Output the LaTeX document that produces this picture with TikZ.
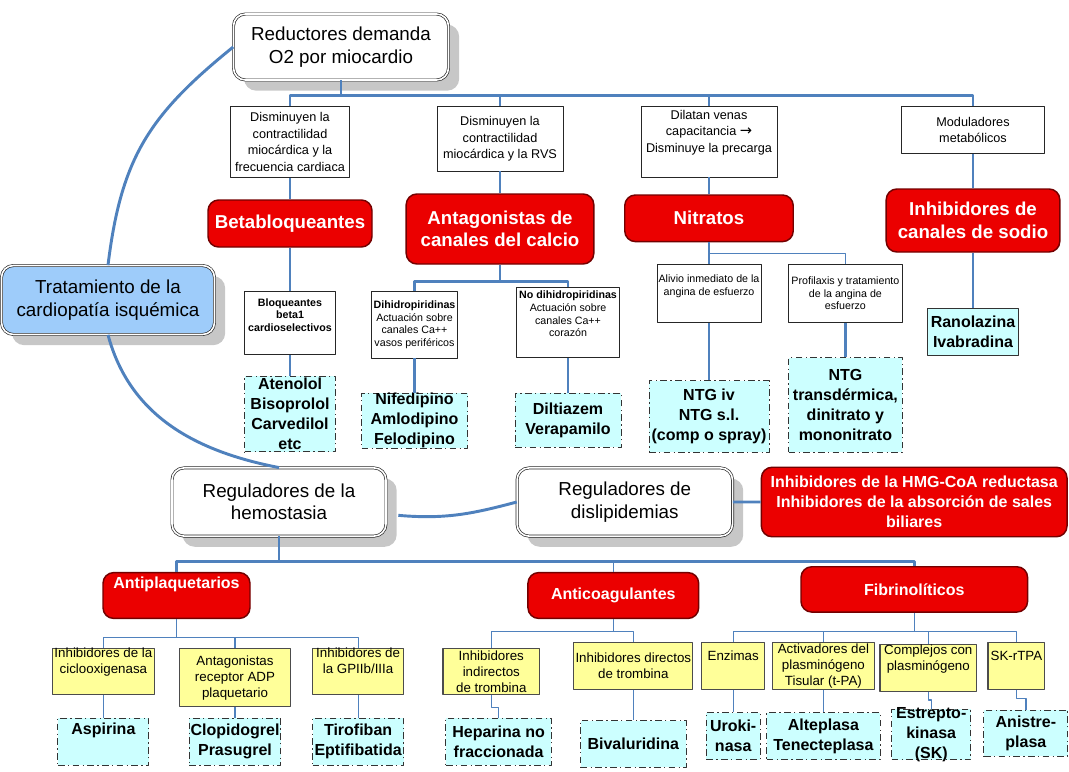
\documentclass[tikz,border=0pt]{standalone}
\usepackage{fontspec}
\setmainfont{Liberation Sans}
\newfontfamily\arrowfont{DejaVu Sans}
\usetikzlibrary{shadows}
\definecolor{linkblue}{RGB}{79,129,189}
\definecolor{boxred}{RGB}{235,0,0}
\definecolor{edgered}{RGB}{115,0,0}
\definecolor{drugcyan}{RGB}{204,255,255}
\definecolor{notey}{RGB}{255,255,153}
\definecolor{tratblue}{RGB}{158,204,250}
\tikzset{
	sz/.style 2 args={minimum width=#1*.75pt,minimum height=#2*.75pt},
	conn/.style={linkblue,line width=2.2pt},
	thinconn/.style={linkblue,line width=.9pt},
	bigbox/.style={draw=black!85,double=white,double distance=1.2pt,line width=.5pt,rounded corners=9pt,fill=white,align=center,inner sep=1pt,font=\fontsize{14.1}{16.9}\selectfont,drop shadow={shadow xshift=8pt,shadow yshift=-8pt,fill=black!22,opacity=1}},
	redbox/.style={draw=edgered,line width=1.1pt,fill=boxred,text=white,rounded corners=8pt,align=center,inner sep=1pt,font=\bfseries\fontsize{14}{16.8}\selectfont},
	redlow/.style={redbox,font=\bfseries\fontsize{12}{15}\selectfont},
	notebox/.style={draw=black!85,line width=.6pt,fill=white,align=center,inner sep=1pt,font=\fontsize{9.5}{12.3}\selectfont},
	tinybox/.style={notebox,font=\fontsize{8}{9.5}\selectfont},
	drugbox/.style={draw=black!80,dash pattern=on 5pt off 2.5pt on 1pt off 2.5pt,line width=.7pt,fill=drugcyan,align=center,inner xsep=1pt,inner ysep=0pt,font=\bfseries\fontsize{12}{15}\selectfont},
	yelbox/.style={draw=black!70,line width=.8pt,fill=notey,align=center,inner xsep=1pt,inner ysep=0pt,font=\fontsize{10}{12}\selectfont}}
\begin{document}
\begin{tikzpicture}[x=.75pt,y=.75pt,line join=round]
	\useasboundingbox (0,0) rectangle (1069,-771);
	\node[bigbox,sz={215}{66}] (redu) at (341,-47) {Reductores demanda\\O2 por miocardio};
	\node[bigbox,fill=tratblue,sz={213}{69}] (trat) at (108,-300) {Tratamiento de la\\cardiopatía isquémica};
	\node[notebox,sz={119}{70.6}] (d1) at (290,-142) {Disminuyen la\\contractilidad\\miocárdica y la\\frecuencia cardiaca};
	\node[notebox,sz={126}{64.3}] (d2) at (500,-138.9) {Disminuyen la\\contractilidad\\miocárdica y la RVS};
	\node[notebox,sz={136}{70.4}] (d3) at (709,-141.8) {Dilatan venas\\capacitancia {\arrowfont\fontsize{11}{12.3}\selectfont\symbol{"2192}}\\Disminuye la precarga\\\strut};
	\node[notebox,sz={142.6}{47}] (d4) at (973,-130.2) {Moduladores\\metabólicos};
	\node[redbox,sz={164}{47}] (beta) at (290,-223.5) {Betabloqueantes};
	\node[redbox,sz={187.6}{70}] (anta) at (500,-229) {Antagonistas de\\canales del calcio};
	\node[redbox,sz={168.5}{46.6}] (nitr) at (709,-218.3) {Nitratos};
	\node[redbox,sz={173.6}{63}] (sodi) at (973,-220.5) {Inhibidores de\\canales de sodio};
	\node[tinybox,font=\bfseries\fontsize{8}{9.5}\selectfont,sz={90.7}{63}] (bloq) at (290,-323.1) {Bloqueantes\\beta1\\cardioselectivos\\\strut};
	\node[tinybox,sz={86}{66.4}] (dihi) at (414.5,-324.8) {\textbf{Dihidropiridinas}\\Actuación sobre\\canales Ca++\\vasos periféricos};
	\node[tinybox,inner xsep=0pt,sz={103}{70.4}] (nodi) at (568,-322.2) {\textbf{No dihidropiridinas}\\Actuación sobre\\canales Ca++\\corazón\\\strut};
	\node[tinybox,sz={104}{57.7}] (aliv) at (709,-293.5) {Alivio inmediato de la\\angina de esfuerzo\\\strut};
	\node[tinybox,sz={113.8}{57.7}] (prof) at (845.4,-293.5) {Profilaxis y tratamiento\\de la angina de\\esfuerzo};
	\node[drugbox,sz={90.7}{75.7}] (aten) at (290,-413.9) {Atenolol\\Bisoprolol\\Carvedilol\\etc};
	\node[drugbox,sz={106}{55}] (nife) at (414.5,-420.5) {Nifedipino\\Amlodipino\\Felodipino};
	\node[drugbox,sz={106}{54}] (dilt) at (568,-420) {Diltiazem\\Verapamilo};
	\node[drugbox,sz={120}{71.2}] (ntgi) at (709,-416.4) {NTG iv\\NTG s.l.\\(comp o spray)};
	\node[drugbox,sz={113.8}{94.2}] (ntgt) at (845.4,-404.9) {NTG\\transdérmica,\\dinitrato y\\mononitrato};
	\node[drugbox,solid,sz={90.3}{47}] (rano) at (973,-331.5) {Ranolazina\\Ivabradina};
	\node[bigbox,sz={214}{68.2}] (hemo) at (279,-502) {Reguladores de la\\hemostasia};
	\node[bigbox,sz={215.5}{68.2}] (disl) at (624.8,-502) {Reguladores de\\dislipidemias};
	\node[redlow,sz={305.6}{69.5}] (hmg) at (914.2,-502) {Inhibidores de la HMG-CoA reductasa\\Inhibidores de la absorción de sales\\biliares};
	\node[redlow,sz={147}{45.8}] (apla) at (176.5,-595.5) {Antiplaquetarios\\\strut};
	\node[redlow,sz={170.7}{45.8}] (acoa) at (613.3,-595.5) {Anticoagulantes};
	\node[redlow,sz={226.6}{45.3}] (fibr) at (914.3,-589.4) {Fibrinolíticos};
	\node[yelbox,sz={102}{46.5}] (cicl) at (103.4,-671.5) {Inhibidores de la\\ciclooxigenasa\\\strut};
	\node[yelbox,sz={110.5}{58.6}] (adp) at (235,-677.6) {Antagonistas\\receptor ADP\\plaquetario};
	\node[yelbox,sz={91}{46.5}] (gpii) at (358.1,-671.5) {Inhibidores de\\la GPIIb/IIIa\\\strut};
	\node[yelbox,sz={96.6}{46.5}] (indi) at (491.3,-671.5) {Inhibidores\\indirectos\\de trombina};
	\node[yelbox,sz={119.2}{46.5}] (dire) at (633.3,-665.8) {Inhibidores directos\\de trombina};
	\node[yelbox,sz={62.5}{46.5}] (enzi) at (733.2,-665.8) {Enzimas\\\strut};
	\node[yelbox,sz={102.4}{46.5}] (acti) at (823.4,-665.8) {Activadores del\\plasminógeno\\Tisular (t-PA)};
	\node[yelbox,sz={96.6}{45.7}] (comp) at (928.3,-667.9) {Complejos con\\plasminógeno\\\strut};
	\node[yelbox,sz={56.8}{46.5}] (sktp) at (1016.4,-665.8) {SK-rTPA\\\strut};
	\node[drugbox,sz={91}{47.2}] (aspi) at (103.4,-741.8) {Aspirina\\\strut};
	\node[drugbox,sz={91.2}{47.2}] (clop) at (235,-741.8) {Clopidogrel\\Prasugrel};
	\node[drugbox,sz={91}{47.2}] (tiro) at (358.1,-741.8) {Tirofiban\\Eptifibatida};
	\node[drugbox,sz={105.3}{47.2}] (hepa) at (498.6,-741.8) {Heparina no\\fraccionada};
	\node[drugbox,sz={105.4}{46.4}] (biva) at (633.3,-743.8) {Bivaluridina};
	\node[drugbox,sz={53.7}{46.9}] (urok) at (733.2,-736.2) {Uroki-\\nasa};
	\node[drugbox,sz={113.2}{46.9}] (alte) at (823.4,-736.2) {Alteplasa\\Tenecteplasa};
	\node[drugbox,inner ysep=-2pt,sz={79.2}{50.3}] (estr) at (931.2,-734.5) {Estrepto-\\kinasa\\(SK)};
	\node[drugbox,sz={84}{45.7}] (anis) at (1025.9,-733.2) {Anistre-\\plasa};
	\path (redu.south) ++(0,-15) coordinate (b0);
	\draw[thinconn] (b0) -| (d2.north) (b0) -| (d3.north);
	\draw[conn] (redu.south) -- (b0) (d1.north) |- (b0) -| (d4.north);
	\draw[conn] (d1) -- (beta) (d2) -- (anta) (d3) -- (nitr) (d4) -- (sodi) (beta) -- (bloq) (bloq) -- (aten);
	\path (anta.south) ++(0,-17) coordinate (b1);
	\draw[conn] (anta.south) -- (b1) (dihi.north) |- (b1) -| (nodi.north) (dihi) -- (nife) (nodi) -- (dilt);
	\path (nitr.south) ++(0,-11) coordinate (b2);
	\draw[thinconn] (nitr) -- (aliv) (b2) -| (prof.north);
	\draw[conn] (aliv) -- (ntgi) (prof) -- (ntgt) (sodi) -- (rano);
	\draw[conn] (redu.west) to[out=219,in=83,looseness=1.1] (trat.north) (trat.south) to[out=-75,in=169] (hemo.north);
	\draw[conn] ([xshift=9pt,yshift=-10pt]hemo.east) to[out=-5,in=195] (disl.west) (disl) -- (hmg);
	\path (hemo.south) ++(0,-25) coordinate (b3);
	\draw[thinconn] (b3) -| (acoa.north);
	\draw[conn] (hemo.south) -- (b3) (apla.north) |- (b3) -| (fibr.north);
	\path (apla.south) ++(0,-18.6) coordinate (b4);
	\draw[thinconn] (apla.south) -- (b4) (cicl.north) |- (b4) -| (gpii.north) (b4) -| (adp.north) (cicl) -- (aspi) (adp) -- (clop) (gpii) -- (tiro);
	\path (acoa.south) ++(0,-12) coordinate (b5);
	\draw[thinconn] (acoa.south) -- (b5) (indi.north) |- (b5) -| (dire.north) (indi.south) -- ++(0,-12.2) -| (hepa.north) (dire) -- (biva);
	\path (fibr.south) ++(0,-18.4) coordinate (b6);
	\draw[thinconn] (fibr.south) -- (b6) (enzi.north) |- (b6) -| (sktp.north) (b6) -| (acti.north) (b6) -| (comp.north) (enzi) -- (urok) (acti) -- (alte) (comp.south) -- ++(0,-8.3) -| (estr.north) (sktp.south) -- ++(0,-9) -| (anis.north);
\end{tikzpicture}
\end{document}
